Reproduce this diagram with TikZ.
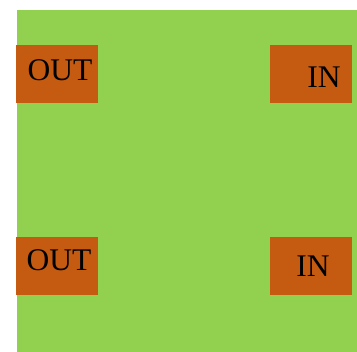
\documentclass[tikz,border=0pt]{standalone}
\usepackage{fontspec}
\setmainfont{Liberation Serif}
\usepackage{xcolor}
\usetikzlibrary{positioning}
\definecolor{boardgreen}{HTML}{92D050}
\definecolor{portorange}{HTML}{C55A11}
\tikzset{
  board/.style={fill=boardgreen, draw=none},
  port/.style={fill=portorange, draw=none, minimum width=82pt, minimum height=58pt, inner sep=0pt},
  portlabel/.style={anchor=base, inner sep=0pt, font=\fontsize{31.5}{38}\selectfont, text=black}
}
\begin{document}
\begin{tikzpicture}[x=1pt, y=-1pt]
  \useasboundingbox (0,0) rectangle (357,352);
  \fill[white] (0,0) rectangle (357,352);
  \node[board, minimum width=340pt, minimum height=342pt, inner sep=0pt, anchor=north west] (board) at (17,10) {};

  \node[port] (outtop) at (57,74) {};
  \node[port] (intop) at (311,74) {};
  \node[port] (outbot) at (57,266) {};
  \node[port] (inbot) at (311,266) {};

  \node[portlabel] (outtoplabel) at (60,81) {OUT};
  \node[portlabel] (intoplabel) at (324,88) {IN};
  \node[portlabel] (outbotlabel) at (59,271) {OUT};
  \node[portlabel] (inbotlabel) at (313,277) {IN};
\end{tikzpicture}
\end{document}
